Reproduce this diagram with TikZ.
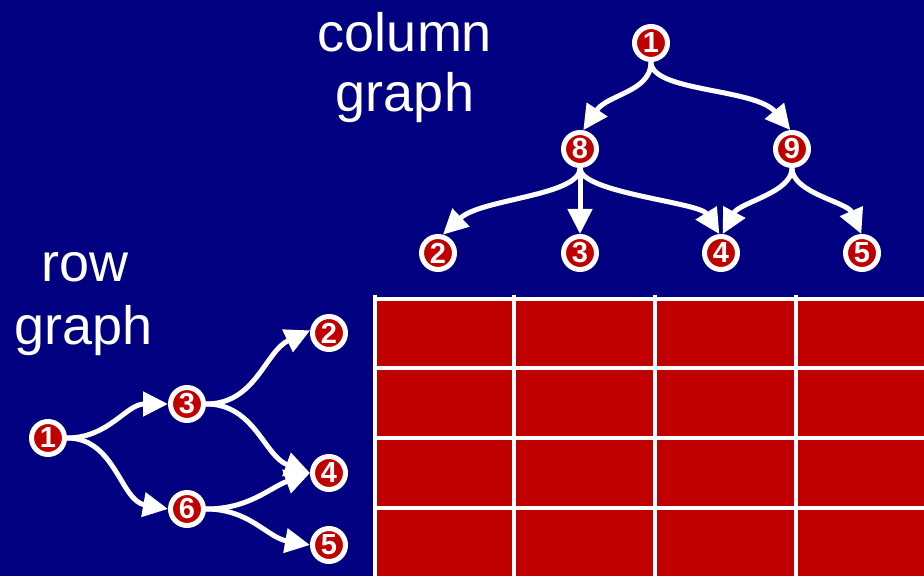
\documentclass[tikz,border=0pt]{standalone}
\usepackage{fontspec}
\setmainfont{Liberation Sans}
\usetikzlibrary{arrows.meta}
\definecolor{navy}{HTML}{000080}
\definecolor{cellred}{HTML}{C00000}
\tikzset{
  gnode/.style={circle, fill=cellred, draw=white, line width=5pt, minimum size=33pt, inner sep=0pt,
    text=white, font=\fontsize{29}{29}\selectfont\bfseries},
  edge/.style={draw=white, line width=5pt, -{Triangle[length=25pt,width=24pt]}},
  bigtext/.style={text=white, font=\fontsize{54}{60}\selectfont, anchor=base, inner sep=0pt}
}
\begin{document}
\begin{tikzpicture}[x=1pt,y=1pt]
\fill[navy] (0,0) rectangle (924,576);
\useasboundingbox (0,0) rectangle (924,576);
% grid
\fill[cellred] (373,0) rectangle (924,279);
\foreach \xx in {375,514,655,796} \draw[white, line width=4.5pt] (\xx,0) -- (\xx,281);
\foreach \yy in {277,208,138,68} \draw[white, line width=4.5pt] (373,\yy) -- (924,\yy);
% labels
\node[bigtext] (colA) at (405,524) {column};
\node[bigtext] (colB) at (405,464) {graph};
\node[bigtext] (rowA) at (85,294) {row};
\node[bigtext] (rowB) at (84,231) {graph};
% column graph
\node[gnode] (c1) at (651,533) {1};
\node[gnode] (c8) at (580,427) {8};
\node[gnode] (c9) at (792,427) {9};
\node[gnode] (c2) at (438,323) {2};
\node[gnode] (c3) at (580,323) {3};
\node[gnode] (c4) at (721,323) {4};
\node[gnode] (c5) at (862,323) {5};
\draw[edge] (c1.south) .. controls +(0,-30) and +(24,36) .. (c8.80);
\draw[edge] (c1.south) .. controls +(0,-30) and +(-35,42) .. (c9.95);
\draw[edge] (c8.south) .. controls +(0,-28) and +(38,36) .. (c2.75);
\draw[edge] (c8) -- (c3);
\draw[edge] (c8.south) .. controls +(0,-25) and +(-20,32) .. (c4.95);
\draw[edge] (c9.south) .. controls +(0,-25) and +(17,32) .. (c4.85);
\draw[edge] (c9.south) .. controls +(0,-25) and +(-14,32) .. (c5.92);
% row graph
\node[gnode] (r1) at (48,138) {1};
\node[gnode] (r3) at (187,172) {3};
\node[gnode] (r6) at (187,67) {6};
\node[gnode] (r2) at (329,243) {2};
\node[gnode] (r4) at (329,103) {4};
\node[gnode] (r5) at (329,31) {5};
\draw[edge] (r1.east) to[out=0,in=180] (r3.180);
\draw[edge] (r1.east) to[out=0,in=170] (r6.180);
\draw[edge] (r3.east) to[out=0,in=205] (r2.172);
\draw[edge] (r3.east) to[out=0,in=160] (r4.180);
\draw[edge] (r6.east) to[out=0,in=200] (r4.180);
\draw[edge] (r6.east) to[out=0,in=170] (r5.180);
\end{tikzpicture}
\end{document}
